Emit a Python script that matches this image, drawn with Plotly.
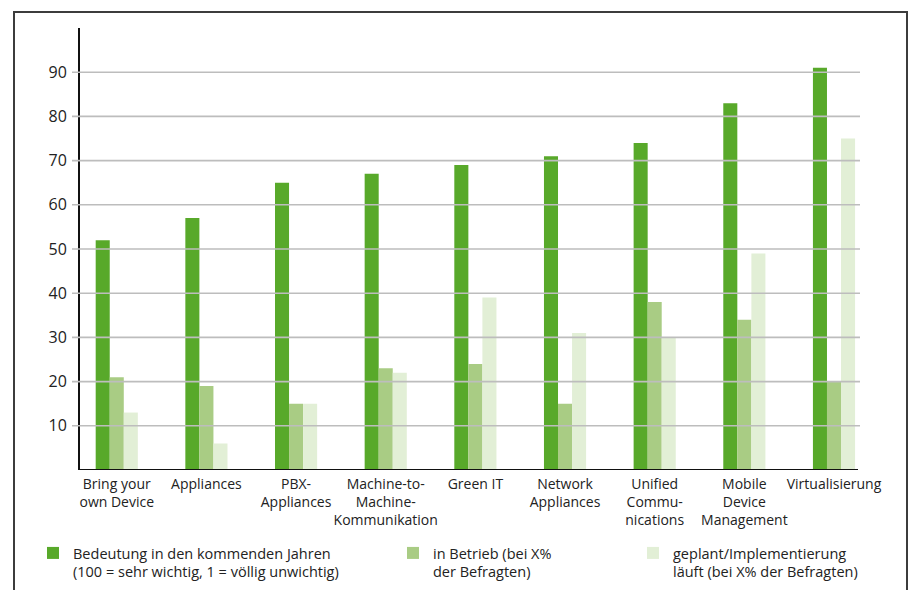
import plotly.graph_objects as go

# --- data -------------------------------------------------------------
categories = [
    "Bring your<br>own Device",
    "Appliances",
    "PBX-<br>Appliances",
    "Machine-to-<br>Machine-<br>Kommunikation",
    "Green IT",
    "Network<br>Appliances",
    "Unified<br>Commu-<br>nications",
    "Mobile<br>Device<br>Management",
    "Virtualisierung",
]
bedeutung = [52, 57, 65, 67, 69, 71, 74, 83, 91]
in_betrieb = [21, 19, 15, 23, 24, 15, 38, 34, 20]
geplant = [13, 6, 15, 22, 39, 31, 30, 49, 75]

series_names = [
    "Bedeutung in den kommenden Jahren<br>(100 = sehr wichtig, 1 = völlig unwichtig)",
    "in Betrieb (bei X%<br>der Befragten)",
    "geplant/Implementierung<br>läuft (bei X% der Befragten)",
]
y_ticks = [10, 20, 30, 40, 50, 60, 70, 80, 90]

# --- styling ----------------------------------------------------------
W, H = 912, 590
ML, MR, MT, MB = 80, 52, 28, 120
PW, PH = W - ML - MR, H - MT - MB
colors = ["#58a92a", "#a9cc84", "#e2efd6"]
FONT = "Open Sans"


def px_x(px):
    return (px - ML) / PW


def px_y(py):
    return (H - MB - py) / PH


x_pos = list(range(len(categories)))
fig = go.Figure()
for i, (vals, name) in enumerate(zip([bedeutung, in_betrieb, geplant], series_names)):
    fig.add_trace(go.Bar(
        x=x_pos, y=vals, name=name,
        marker=dict(color=colors[i], line=dict(width=0)),
        legend="legend" if i == 0 else f"legend{i + 1}",
        hoverinfo="y",
    ))

shapes = []
# gridlines drawn on top of the bars
for v in y_ticks:
    shapes.append(dict(type="line", xref="paper", yref="y", x0=px_x(72), x1=px_x(860),
                       y0=v, y1=v, line=dict(color="#bdbdbd", width=1.6), layer="above"))
# outer frame
shapes.append(dict(type="rect", xref="paper", yref="paper",
                   x0=px_x(14), x1=px_x(907), y0=px_y(620), y1=px_y(12),
                   line=dict(color="#3c3c3c", width=2), layer="above"))
# baseline
shapes.append(dict(type="line", xref="paper", yref="y", x0=0, x1=px_x(858),
                   y0=0, y1=0, line=dict(color="#111111", width=2), layer="above"))

legend_common = dict(
    orientation="v", yanchor="top", xanchor="left", valign="top",
    font=dict(family=FONT, size=14.5, color="#222222"),
    bgcolor="rgba(0,0,0,0)", itemclick=False, itemdoubleclick=False,
)

fig.update_layout(
    width=W, height=H,
    margin=dict(l=ML, r=MR, t=MT, b=MB, autoexpand=False),
    paper_bgcolor="white", plot_bgcolor="white",
    barmode="group", bargap=0.53, bargroupgap=0,
    font=dict(family=FONT, color="#222222"),
    showlegend=True,
    legend=dict(x=px_x(33), y=px_y(537), **legend_common),
    legend2=dict(x=px_x(393), y=px_y(537), **legend_common),
    legend3=dict(x=px_x(633), y=px_y(537), **legend_common),
    xaxis=dict(
        range=[-0.41, 8.29], tickmode="array", tickvals=x_pos, ticktext=categories,
        tickangle=0, automargin=False, ticklabelstandoff=4,
        showgrid=False, zeroline=False, showline=False, ticks="",
        tickfont=dict(family=FONT, size=14, color="#222222"), fixedrange=True,
    ),
    yaxis=dict(
        range=[0, 100], tickmode="array", tickvals=y_ticks, automargin=False,
        showgrid=False, zeroline=False,
        showline=True, linecolor="#111111", linewidth=2,
        ticks="", ticklabelstandoff=8,
        tickfont=dict(family=FONT, size=16, color="#222222"), fixedrange=True,
    ),
    shapes=shapes,
)

fig.write_html("out.html")
